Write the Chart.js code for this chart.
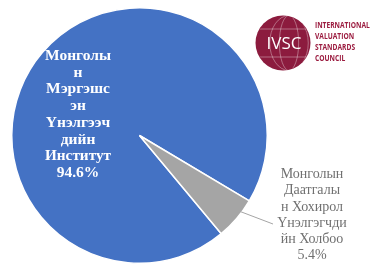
<!DOCTYPE html>
<html>
<head>
<meta charset="utf-8">
<script src="https://cdn.jsdelivr.net/npm/chart.js@4"></script>
<style>
  html, body { margin: 0; padding: 0; background: #fff; }
  #wrap { position: relative; width: 377px; height: 264px; }
</style>
</head>
<body>
<div id="wrap"><canvas id="pie" width="377" height="264"></canvas></div>
<script>
// data
const categories = [
  "Монголын Мэргэшсэн Үнэлгээчдийн Институт",
  "Монголын Даатгалын Хохирол Үнэлгчдийн Холбоо"
];
const shares = [94.6, 5.4];
const labelLines = [
  ["Монголы", "н", "Мэргэшс", "эн", "Үнэлгээч", "дийн", "Институт", "94.6%"],
  ["Монголын", "Даатгалы", "н Хохирол", "Үнэлгэгчди", "йн Холбоо", "5.4%"]
];
const logoLines = ["INTERNATIONAL", "VALUATION", "STANDARDS", "COUNCIL"];

const colors = ["#4472C4", "#A5A5A5"];

// slice labels + leader line
const sliceLabels = {
  id: "sliceLabels",
  afterDatasetsDraw(chart) {
    const ctx = chart.ctx;
    const arcs = chart.getDatasetMeta(0).data;
    ctx.save();
    ctx.textAlign = "center";
    ctx.textBaseline = "middle";

    // big slice, inside
    ctx.fillStyle = "#ffffff";
    ctx.font = "bold 15.5px 'Liberation Serif', 'DejaVu Serif', serif";
    labelLines[0].forEach((t, i) => {
      ctx.fillText(t, 78, 56 + i * 16.7, 66);
    });

    // small slice, outside with leader
    const a = arcs[1];
    const mid = (a.startAngle + a.endAngle) / 2;
    const r = a.outerRadius * 0.82;
    const sx = a.x + Math.cos(mid) * r;
    const sy = a.y + Math.sin(mid) * r;
    ctx.strokeStyle = "#A5A5A5";
    ctx.lineWidth = 1;
    ctx.beginPath();
    ctx.moveTo(sx, sy);
    ctx.lineTo(273, 224);
    ctx.stroke();

    ctx.fillStyle = "#707070";
    ctx.font = "14px 'Liberation Serif', 'DejaVu Serif', serif";
    labelLines[1].forEach((t, i) => {
      ctx.fillText(t, 312, 174.5 + i * 16.2, 72);
    });
    ctx.restore();
  }
};

// IVSC logo in the corner
const logo = {
  id: "logo",
  afterDraw(chart) {
    const ctx = chart.ctx;
    const cx = 283, cy = 43, r = 27.5;
    ctx.save();
    ctx.fillStyle = "#8C1B3E";
    ctx.beginPath();
    ctx.arc(cx, cy, r, 0, Math.PI * 2);
    ctx.fill();

    // globe lines
    ctx.save();
    ctx.beginPath();
    ctx.arc(cx, cy, r - 0.5, 0, Math.PI * 2);
    ctx.clip();
    ctx.strokeStyle = "rgba(255,255,255,0.45)";
    ctx.lineWidth = 0.8;
    [0.35, 0.7].forEach(k => {
      ctx.beginPath();
      ctx.ellipse(cx + 6, cy, r * k, r, 0, 0, Math.PI * 2);
      ctx.stroke();
    });
    [-14, 14].forEach(dy => {
      ctx.beginPath();
      ctx.moveTo(cx - r, cy + dy);
      ctx.lineTo(cx + r, cy + dy);
      ctx.stroke();
    });
    ctx.restore();

    ctx.fillStyle = "#ffffff";
    ctx.font = "17px 'Open Sans', 'DejaVu Sans', sans-serif";
    ctx.textAlign = "center";
    ctx.textBaseline = "middle";
    ctx.fillText("IVSC", cx + 1, cy + 1, 48);

    ctx.fillStyle = "#9B1B3F";
    ctx.font = "bold 9px 'Open Sans', 'DejaVu Sans', sans-serif";
    ctx.textAlign = "left";
    logoLines.forEach((t, i) => {
      ctx.save();
      ctx.translate(315, 25 + i * 11);
      ctx.scale(0.74, 1);
      ctx.fillText(t, 0, 0);
      ctx.restore();
    });
    ctx.restore();
  }
};

new Chart(document.getElementById("pie"), {
  type: "pie",
  data: {
    labels: categories,
    datasets: [{
      data: shares,
      backgroundColor: colors,
      borderColor: "#ffffff",
      borderWidth: 1.5
    }]
  },
  options: {
    responsive: false,
    animation: false,
    rotation: 140.2,
    layout: { padding: { left: 11, right: 109, top: 7, bottom: 0 } },
    plugins: {
      legend: { display: false },
      tooltip: { enabled: false }
    }
  },
  plugins: [sliceLabels, logo]
});
</script>
</body>
</html>
